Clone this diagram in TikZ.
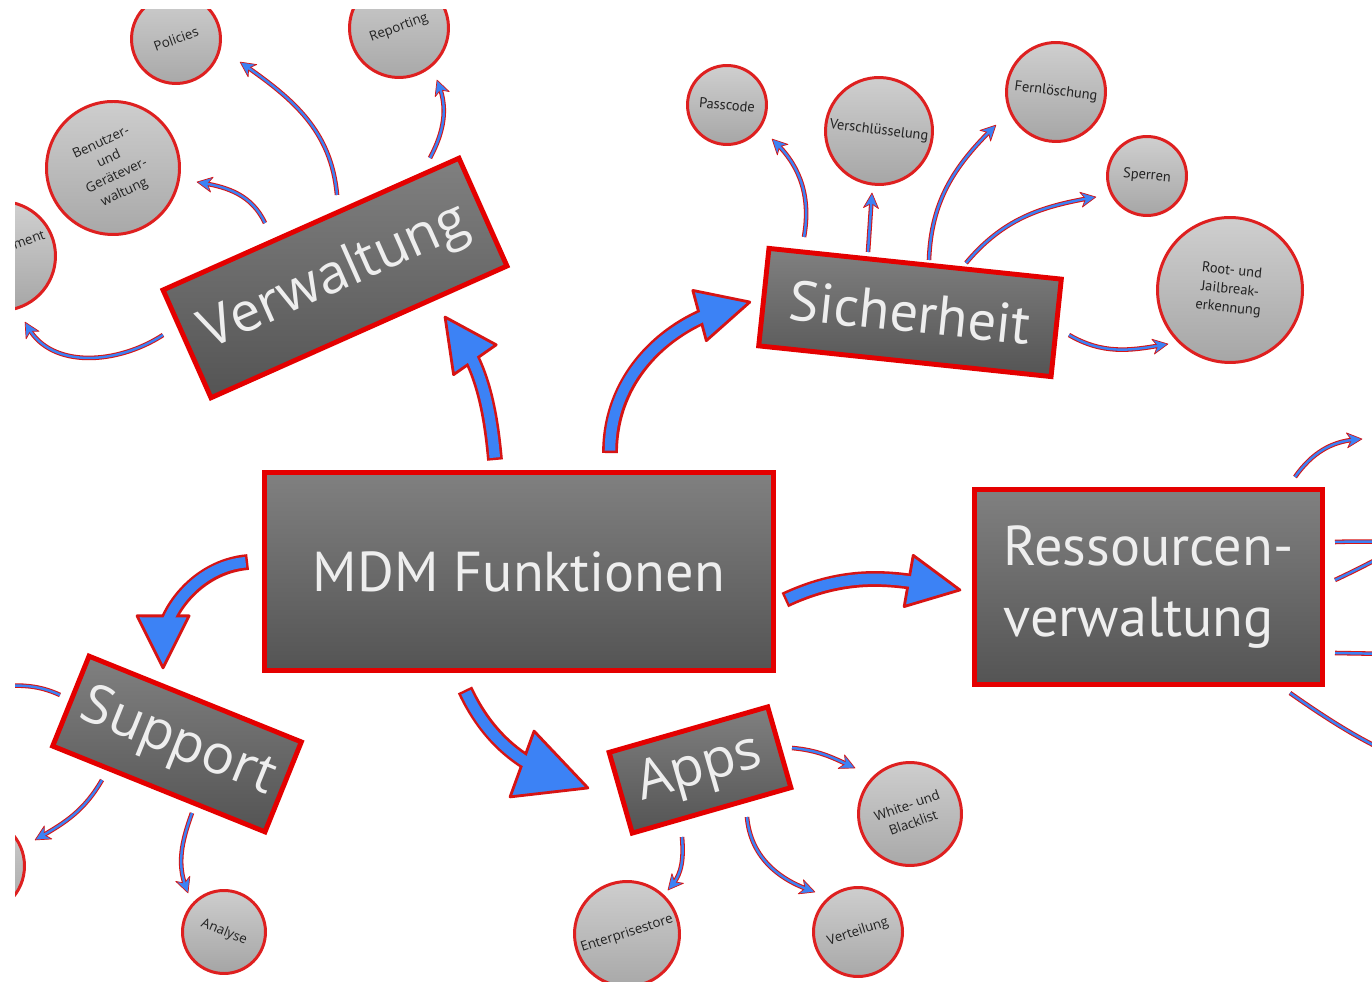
\documentclass[tikz,border=0pt]{standalone}
\usepackage{fontspec}
\newfontfamily\ptsans{PT Sans}
\newfontfamily\opensans{Open Sans}
\usetikzlibrary{decorations.markings}

\definecolor{rahmenrot}{RGB}{228,0,0}
\definecolor{kreisrot}{RGB}{222,32,32}
\definecolor{pfeilblau}{RGB}{60,130,245}
\definecolor{pfeilrot}{RGB}{215,20,20}
\definecolor{boxoben}{RGB}{128,128,128}
\definecolor{boxunten}{RGB}{84,84,84}
\definecolor{boxtext}{RGB}{238,238,238}
\definecolor{kreisoben}{RGB}{208,208,208}
\definecolor{kreisunten}{RGB}{166,166,166}
\definecolor{kreistext}{RGB}{34,34,34}

\tikzset{
  thema/.style={draw=rahmenrot, line width=2.8pt, top color=boxoben, bottom color=boxunten,
    text=boxtext, inner sep=0pt},
  hauptschrift/.style={font=\ptsans\fontsize{32}{40}\selectfont},
  zweitschrift/.style={font=\opensans\fontsize{31}{38}\selectfont},
  punkt/.style={circle, draw=kreisrot, line width=1.7pt, top color=kreisoben, bottom color=kreisunten,
    text=kreistext, inner sep=0pt, align=center},
  klein/.style={font=\opensans\fontsize{7.6}{10.4}\selectfont},
  kleinpt/.style={font=\ptsans\fontsize{8.2}{10.6}\selectfont},
  grosspfeil/.style={
    preaction={draw=pfeilrot, line width=9pt, shorten >=#1, shorten <=0pt},
    preaction={decorate, decoration={markings, mark=at position 0.999 with {
      \filldraw[fill=pfeilblau, draw=pfeilrot, line width=1.6pt, line join=round]
        (0,0) -- (-2*#1,#1) -- (-2*#1,-#1) -- cycle;}}},
    draw=pfeilblau, line width=6pt, shorten >=#1, shorten <=1.4pt},
  grosspfeil/.default=0.52cm,
  kleinpfeil/.style={
    preaction={draw=pfeilrot, line width=2.6pt, shorten >=0.14cm},
    preaction={decorate, decoration={markings, mark=at position 0.999 with {
      \filldraw[fill=pfeilblau, draw=pfeilrot, line width=0.4pt, line join=round]
        (0,0) -- (-0.3cm,0.15cm) -- (-0.21cm,0) -- (-0.3cm,-0.15cm) -- cycle;}}},
    draw=pfeilblau, line width=1.4pt, shorten >=0.14cm}
}

\begin{document}
\begin{tikzpicture}[x=0.02cm, y=0.02cm]
\fill[white] (0,0) rectangle (1372,-982);
\useasboundingbox (0,0) rectangle (1372,-982);
\clip (15,-10) rectangle (1372,-982);

% Themen
\node[thema, hauptschrift, minimum width=10.18cm, minimum height=3.96cm] (mdm) at (519,-571.5) {MDM Funktionen};
\node[thema, zweitschrift, minimum width=6.48cm, minimum height=2.36cm, rotate=24] (verw) at (335,-278) {Verwaltung};
\node[thema, hauptschrift, minimum width=5.88cm, minimum height=1.96cm, rotate=-6] (sich) at (910,-312.5) {Sicherheit};
\node[thema, hauptschrift, minimum width=6.96cm, minimum height=3.9cm, align=left] (res) at (1148.5,-587) {Ressourcen-\\verwaltung};
\node[thema, zweitschrift, minimum width=4.58cm, minimum height=1.94cm, rotate=-22] (support) at (177,-744) {Support};
\node[thema, zweitschrift, minimum width=3.3cm, minimum height=1.68cm, rotate=16] (apps) at (700,-770) {Apps};

% Unterpunkte
\node[punkt, klein, minimum size=1.78cm, rotate=20] (policies) at (176,-39) {Policies};
\node[punkt, klein, minimum size=1.98cm, rotate=20] (reporting) at (399,-28) {Reporting};
\node[punkt, klein, minimum size=2.66cm, rotate=25] (benutzer) at (113,-168) {Benutzer-\\und\\Geräte­ver-\\waltung};
\node[punkt, minimum size=2.18cm] (mgmt) at (1,-256) {};
\node[klein, text=kreistext, rotate=20] (mgmttext) at (29,-240) {ment};
\node[punkt, kleinpt, minimum size=1.58cm, rotate=-5] (passcode) at (727,-105) {Passcode};
\node[punkt, kleinpt, minimum size=2.14cm, rotate=-7] (verschl) at (879,-131) {Verschlüsselung};
\node[punkt, kleinpt, minimum size=1.98cm, rotate=-7] (fern) at (1056,-92) {Fernlöschung};
\node[punkt, kleinpt, minimum size=1.58cm, rotate=-5] (sperren) at (1147,-176) {Sperren};
\node[punkt, kleinpt, minimum size=2.9cm, rotate=-6] (root) at (1230,-290) {Root- und\\Jailbreak-\\erkennung};
\node[punkt, klein, minimum size=2.06cm, rotate=20] (white) at (910,-814) {White- und\\Blacklist};
\node[punkt, klein, minimum size=1.78cm, rotate=18] (verteilung) at (858,-932) {Verteilung};
\node[punkt, klein, minimum size=2.1cm, rotate=18] (enterprise) at (627,-934) {Enterprisestore};
\node[punkt, klein, minimum size=1.66cm, rotate=-22] (analyse) at (224,-932) {Analyse};
\node[punkt, minimum size=1.94cm] (supportlinks) at (-24,-866) {};

% grosse Pfeile
\draw[grosspfeil] ([shift={(-24,10)}]mdm.north) to[out=95,in=-55] ([shift={(110,-39)}]verw.center);
\draw[grosspfeil] ([shift={(91,17)}]mdm.north) to[out=90,in=195] ([shift={(-160,10.5)}]sich.center);
\draw[grosspfeil] ([shift={(-14,9.5)}]mdm.west) to[out=185,in=90] ([shift={(-14,76)}]support.center);
\draw[grosspfeil=0.7cm] ([shift={(-54,-17)}]mdm.south) to[out=-65,in=160] ([shift={(-112,-18)}]apps.center);
\draw[grosspfeil] ([shift={(9,-28.5)}]mdm.east) to[out=25,in=170] ([shift={(-12,-3)}]res.west);

% Verwaltung
\draw[kleinpfeil] ([shift={(-172,-57)}]verw.center) to[out=213,in=-60] ([shift={(24,-66)}]mgmt.center);
\draw[kleinpfeil] ([shift={(-70,55)}]verw.center) to[out=115,in=-10] ([shift={(84,-14)}]benutzer.center);
\draw[kleinpfeil] ([shift={(2,83)}]verw.center) to[out=95,in=-35] ([shift={(64,-23)}]policies.center);
\draw[kleinpfeil] ([shift={(95,120)}]verw.center) to[out=62,in=-70] ([shift={(38,-52)}]reporting.center);

% Sicherheit
\draw[kleinpfeil] ([shift={(-106,75.5)}]sich.center) to[out=80,in=-45] ([shift={(45,-34)}]passcode.center);
\draw[kleinpfeil] ([shift={(-42,60.5)}]sich.center) -- ([shift={(-7,-62)}]verschl.center);
\draw[kleinpfeil] ([shift={(19,52.5)}]sich.center) to[out=88,in=-135] ([shift={(-60,-33)}]fern.center);
\draw[kleinpfeil] ([shift={(56,49.5)}]sich.center) to[out=50,in=190] ([shift={(-51,-21)}]sperren.center);
\draw[kleinpfeil] ([shift={(159,-22.5)}]sich.center) to[out=-30,in=190] ([shift={(-62,-54)}]root.center);

% Ressourcenverwaltung
\draw[kleinpfeil] ([shift={(146.5,110)}]res.center) to[out=55,in=185] ([shift={(213.5,148)}]res.center);
\draw[kleinpfeil] ([shift={(186.5,45)}]res.center) to[out=2,in=180] ([shift={(290,44)}]res.center);
\draw[kleinpfeil] ([shift={(186.5,7)}]res.center) to[out=25,in=200] ([shift={(300,60)}]res.center);
\draw[kleinpfeil] ([shift={(186.5,-66)}]res.center) -- ([shift={(300,-68)}]res.center);
\draw[kleinpfeil] ([shift={(141.5,-106)}]res.center) to[out=-35,in=160] ([shift={(300,-190)}]res.center);

% Support
\draw[kleinpfeil] ([shift={(-75,-36)}]support.center) to[out=240,in=30] ([shift={(59,26)}]supportlinks.center);
\draw[kleinpfeil] ([shift={(15,-69)}]support.center) to[out=250,in=110] ([shift={(-36,39)}]analyse.center);
\draw[kleinpfeil] ([shift={(-117,49)}]support.center) to[out=155,in=-5] ([shift={(-217,58)}]support.center);

% Apps
\draw[kleinpfeil] ([shift={(92,22)}]apps.center) to[out=-5,in=155] ([shift={(-55,46)}]white.center);
\draw[kleinpfeil] ([shift={(-18,-67)}]apps.center) to[out=-85,in=50] ([shift={(41,44)}]enterprise.center);
\draw[kleinpfeil] ([shift={(47,-47)}]apps.center) to[out=-85,in=160] ([shift={(-43,40)}]verteilung.center);
\end{tikzpicture}
\end{document}
